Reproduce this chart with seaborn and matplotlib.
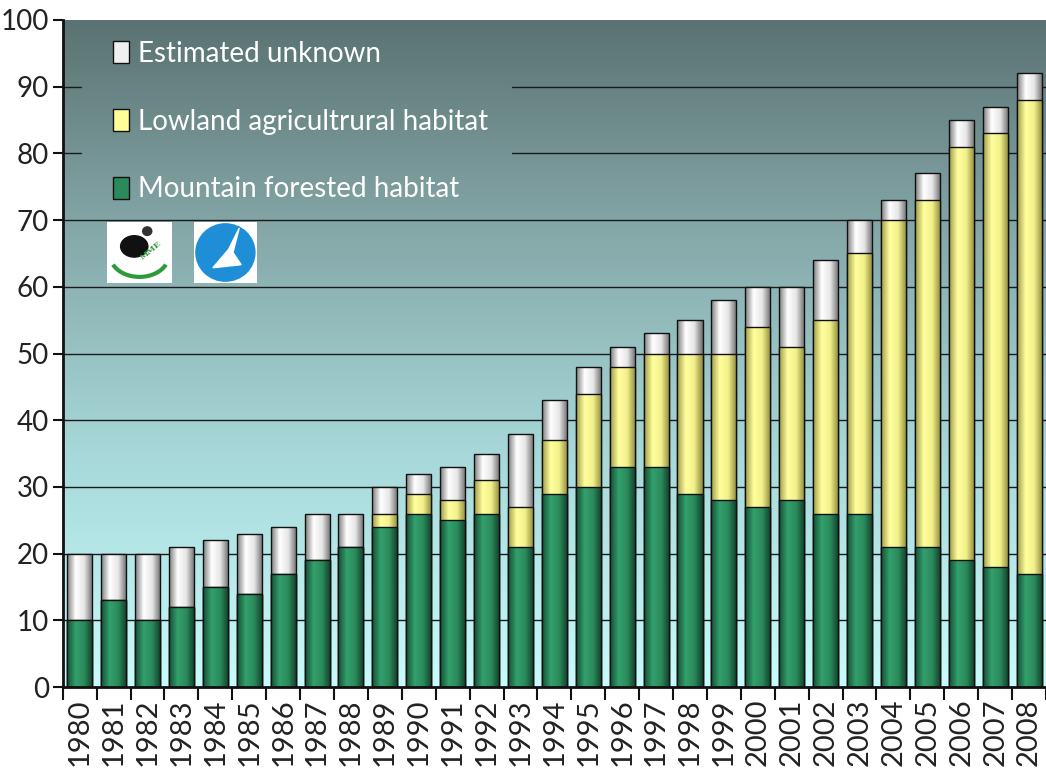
import matplotlib
matplotlib.use("Agg")
import matplotlib.pyplot as plt
import numpy as np
import pandas as pd
import seaborn as sns
from matplotlib.colors import LinearSegmentedColormap
from matplotlib.patches import Patch, Circle, Ellipse, Arc, Polygon

# data
years = [str(y) for y in range(1980, 2009)]
mountain = [10, 13, 10, 12, 15, 14, 17, 19, 21, 24, 26, 25, 26, 21, 29,
            30, 33, 33, 29, 28, 27, 28, 26, 26, 21, 21, 19, 18, 17]
lowland = [0, 0, 0, 0, 0, 0, 0, 0, 0, 2, 3, 3, 5, 6, 8,
           14, 15, 17, 21, 22, 27, 23, 29, 39, 49, 52, 62, 65, 71]
unknown = [10, 7, 10, 9, 7, 9, 7, 7, 5, 4, 3, 5, 4, 11, 6,
           4, 3, 3, 5, 8, 6, 9, 9, 5, 3, 4, 4, 4, 4]

df = pd.DataFrame({"year": years, "mountain": mountain,
                   "lowland": lowland, "unknown": unknown})
df["mid"] = df["mountain"] + df["lowland"]
df["total"] = df["mid"] + df["unknown"]

sns.set_style("white")
plt.rcParams["font.family"] = ["Lato", "DejaVu Sans"]

fig = plt.figure(figsize=(10.46, 7.69), dpi=100)
ax = fig.add_axes([0.060, 0.1066, 0.940, 0.8674])

# background gradient
bg = LinearSegmentedColormap.from_list(
    "bg", ["#c8fbfb", "#a9dadb", "#87aaab", "#5a7272"])
grad = np.linspace(0, 1, 256).reshape(-1, 1)
ax.imshow(grad, extent=[-0.5, 28.5, 0, 100], origin="lower", aspect="auto",
          cmap=bg, zorder=0)

layers = [
    ("total", "#f4f4f4", ["#7d7d7d", "#ffffff", "#e6e6e6", "#6e6e6e"]),
    ("mid", "#ffff99", ["#a09a48", "#ffff9e", "#f2f08a", "#8f8a3c"]),
    ("mountain", "#2a8a5c", ["#155035", "#33a06c", "#2b8a5c", "#123f2a"]),
]

for i, (col, base, shade) in enumerate(layers):
    n_before = len(ax.patches)
    sns.barplot(data=df, x="year", y=col, color=base, width=0.74,
                edgecolor="#111111", linewidth=1.0, saturation=1,
                ax=ax, zorder=2 + i)
    cmap = LinearSegmentedColormap.from_list(col + "_s", shade)
    hgrad = np.linspace(0, 1, 64).reshape(1, -1)
    for p in ax.patches[n_before:]:
        if p.get_height() <= 0:
            continue
        p.set_facecolor("none")
        x0, w, y0, h = p.get_x(), p.get_width(), p.get_y(), p.get_height()
        im = ax.imshow(hgrad, extent=[x0, x0 + w, y0, y0 + h], aspect="auto",
                       cmap=cmap, zorder=1.9 + i)
        im.set_clip_path(p)

# gridlines (the legend block hides the upper two on the left)
for v in range(10, 100, 10):
    if v in (80, 90):
        ax.axhline(v, xmin=0, xmax=0.019, color="#1a1a1a", lw=1, zorder=1)
        ax.axhline(v, xmin=0.457, xmax=1, color="#1a1a1a", lw=1, zorder=1)
    else:
        ax.axhline(v, color="#1a1a1a", lw=1, zorder=1)

ax.set_xlim(-0.5, 28.5)
ax.set_ylim(0, 100)
ax.set_yticks(range(0, 101, 10))
ax.set_xticks(np.arange(-0.5, 29, 1))
ax.set_xticklabels([])
ax.set_xticks(range(29), minor=True)
ax.set_xticklabels(years, minor=True, rotation=90, fontsize=21, color="#222222")
ax.tick_params(axis="x", which="major", length=9, width=1.5, color="#111111",
               direction="out", bottom=True)
ax.tick_params(axis="x", which="minor", length=0, pad=8)
ax.tick_params(axis="y", length=7, width=1.5, color="#111111", direction="out",
               left=True, labelsize=20, labelcolor="#222222", pad=3)
ax.set_xlabel("")
ax.set_ylabel("")
for s in ["top", "right"]:
    ax.spines[s].set_visible(False)
for s in ["left", "bottom"]:
    ax.spines[s].set_color("#111111")
    ax.spines[s].set_linewidth(2)
    ax.spines[s].set_zorder(10)

handles = [
    Patch(facecolor="#f0f0f0", edgecolor="#111111", label="Estimated unknown"),
    Patch(facecolor="#ffff99", edgecolor="#111111", label="Lowland agricultrural habitat"),
    Patch(facecolor="#2a8a5c", edgecolor="#111111", label="Mountain forested habitat"),
]
leg = ax.legend(handles=handles, loc="upper left", bbox_to_anchor=(0.026, 1.006),
                frameon=False, fontsize=20, labelcolor="white", handlelength=0.55,
                handleheight=0.85, handletextpad=0.35, labelspacing=1.5)
leg.set_zorder(20)

# logos
l1 = fig.add_axes([0.1023, 0.632, 0.062, 0.0793])
l1.set_xlim(0, 1); l1.set_ylim(0, 1)
l1.add_patch(plt.Rectangle((0, 0), 1, 1, color="white", zorder=-1))
l1.add_patch(Ellipse((0.42, 0.6), 0.42, 0.35, color="#111111"))
l1.add_patch(Ellipse((0.62, 0.85), 0.14, 0.14, color="#333333"))
l1.add_patch(Arc((0.5, 0.45), 0.9, 0.7, theta1=200, theta2=340, color="#2f9a3a", lw=3))
l1.text(0.68, 0.38, "MME", fontsize=6, color="#2f9a3a", ha="center",
        rotation=40, family="DejaVu Serif", weight="bold")
l1.axis("off")

l2 = fig.add_axes([0.1855, 0.632, 0.060, 0.0793])
l2.set_xlim(0, 1); l2.set_ylim(0, 1)
l2.add_patch(plt.Rectangle((0, 0), 1, 1, color="white", zorder=-1))
l2.add_patch(Circle((0.5, 0.5), 0.47, color="#1e8fd6"))
l2.add_patch(Polygon([[0.3, 0.25], [0.55, 0.55], [0.72, 0.9], [0.62, 0.5],
                      [0.75, 0.3]], color="white"))
l2.axis("off")

fig.savefig("out.png", dpi=100)
